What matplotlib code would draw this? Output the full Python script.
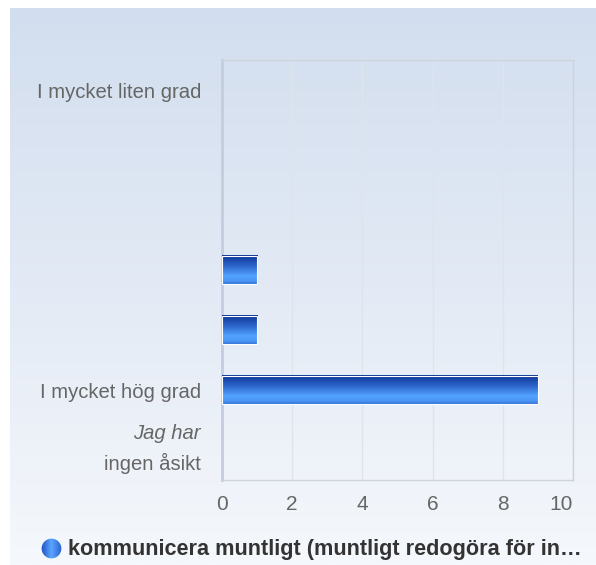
import numpy as np
import matplotlib
matplotlib.use('Agg')
import matplotlib.pyplot as plt
import matplotlib.transforms as mtransforms
from matplotlib.colors import LinearSegmentedColormap
from matplotlib.patches import Circle

plt.rcParams['font.family'] = ['Liberation Sans', 'DejaVu Sans']

categories = ['I mycket liten grad', '', '', '', '', 'I mycket hög grad', 'Jag har ingen åsikt']
values = [0, 0, 0, 1, 1, 9, 0]
xticks = [0, 2, 4, 6, 8, 10]
series_name = 'kommunicera muntligt (muntligt redogöra för in…'

W, H = 596, 565
fig = plt.figure(figsize=(W / 100, H / 100), dpi=100)

# background gradient panel
bg = fig.add_axes([10 / W, 0, 1 - 10 / W, 1 - 8 / H], zorder=-5)
bg_cmap = LinearSegmentedColormap.from_list('bg', ['#d2deef', '#e3eaf5', '#f5f8fc'])
bg.imshow(np.linspace(0, 1, 256).reshape(-1, 1), cmap=bg_cmap, aspect='auto',
          extent=[0, 1, 0, 1])
bg.axis('off')

# main axes
ax = fig.add_axes([222 / W, 1 - 480 / H, (573 - 222) / W, (480 - 60) / H])
ax.set_facecolor('none')

bar_cmap = LinearSegmentedColormap.from_list(
    'bar', [(0, '#0c3592'), (0.35, '#2b62c8'), (0.72, '#52a2ff'),
            (0.9, '#4b97f6'), (1.0, '#3473d8')])
grad = np.linspace(0, 1, 64).reshape(-1, 1)
h = 0.47
for i, v in enumerate(values):
    if v > 0:
        ax.imshow(grad, cmap=bar_cmap, aspect='auto', zorder=3,
                  extent=[0, v, i + h / 2, i - h / 2])
        ax.barh(i, v, height=h, color='none', edgecolor='white', linewidth=0.8, zorder=4)

ax.set_xlim(0, 10)
ax.set_ylim(len(categories) - 0.5, -0.5)
ax.set_xticks(xticks)
ax.set_xticklabels([str(t) for t in xticks])
ax.set_yticks(range(len(categories)))
ax.set_yticklabels(categories[:-1] + [''])
for t in ax.get_xticklabels():
    t.set_color('#666666')
    t.set_fontsize(15)
for t in ax.get_yticklabels():
    t.set_color('#666666')
    t.set_fontsize(14.6)
ax.get_xticklabels()[-1].set_horizontalalignment('right')
ax.get_xticklabels()[-1].set_x(10.4)
ax.tick_params(axis='both', length=0)
ax.tick_params(axis='y', pad=15)
ax.tick_params(axis='x', pad=11)

ax.grid(axis='x', color='#dfe4eb', linewidth=1)
ax.set_axisbelow(True)
for s in ['top', 'right', 'bottom']:
    ax.spines[s].set_color('#cdd3dc')
    ax.spines[s].set_linewidth(1)
ax.spines['left'].set_color('#c4cce0')
ax.spines['left'].set_linewidth(2)

# two-line label for the last category
tr = mtransforms.offset_copy(ax.get_yaxis_transform(), fig=fig, x=-21, y=0, units='dots')
last = len(categories) - 1
ax.text(0, last - 0.27, 'Jag har', transform=tr, ha='right', va='center',
        fontsize=14.6, color='#666666', style='italic')
ax.text(0, last + 0.23, 'ingen åsikt', transform=tr, ha='right', va='center',
        fontsize=14.6, color='#666666')

# legend
lg = fig.add_axes([41 / W, 1 - 559 / H, 21 / W, 21 / H])
lg_cmap = LinearSegmentedColormap.from_list('lg', ['#1f4fc0', '#5aa6ff', '#2a60d0'])
im = lg.imshow(np.linspace(0, 1, 64).reshape(1, -1), cmap=lg_cmap, aspect='auto',
               extent=[0, 1, 0, 1])
circ = Circle((0.5, 0.5), 0.47, transform=lg.transData, facecolor='none')
lg.add_patch(circ)
im.set_clip_path(circ)
lg.set_xlim(0, 1)
lg.set_ylim(0, 1)
lg.axis('off')
fig.text(68 / W, 1 - 549 / H, series_name, fontsize=15.6, fontweight='bold',
         color='#333333', ha='left', va='center')

fig.savefig('out.png', dpi=100)
